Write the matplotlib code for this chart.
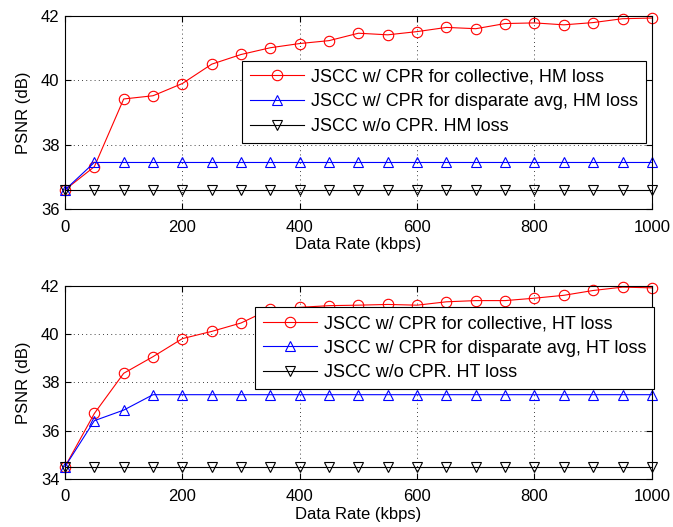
import numpy as np
import matplotlib
matplotlib.use('Agg')
import matplotlib.pyplot as plt

plt.rcParams['font.family'] = ['Liberation Sans', 'DejaVu Sans']

rate = [0, 50, 100, 150, 200, 250, 300, 350, 400, 450, 500,
        550, 600, 650, 700, 750, 800, 850, 900, 950, 1000]

# HM loss
hm_collective = [36.6, 37.32, 39.42, 39.52, 39.90, 40.50, 40.80, 41.01, 41.14, 41.23, 41.46,
                 41.41, 41.51, 41.64, 41.60, 41.76, 41.78, 41.72, 41.79, 41.91, 41.93]
hm_disparate = [36.6] + [37.45] * 20
hm_nocpr = [36.6] * 21

# HT loss
ht_collective = [34.5, 36.71, 38.38, 39.07, 39.82, 40.12, 40.47, 41.05, 41.12, 41.19, 41.21,
                 41.24, 41.21, 41.35, 41.40, 41.40, 41.50, 41.62, 41.82, 41.96, 41.93]
ht_disparate = [34.5, 36.41, 36.85] + [37.49] * 18
ht_nocpr = [34.5] * 21

labels_hm = ['JSCC w/ CPR for collective, HM loss',
             'JSCC w/ CPR for disparate avg, HM loss',
             'JSCC w/o CPR. HM loss']
labels_ht = ['JSCC w/ CPR for collective, HT loss',
             'JSCC w/ CPR for disparate avg, HT loss',
             'JSCC w/o CPR. HT loss']

fig = plt.figure(figsize=(6.73, 5.27), dpi=100)
ax1 = fig.add_axes([0.0966, 0.603, 0.872, 0.367])
ax2 = fig.add_axes([0.0966, 0.0917, 0.872, 0.3653])


def draw(ax, series, labels, ylim, yticks, legend_box):
    styles = [('r', 'o'), ('b', '^'), ('k', 'v')]
    for y, lab, (c, m) in zip(series, labels, styles):
        ax.plot(rate, y, color=c, marker=m, markersize=7.5, markerfacecolor='none',
                markeredgecolor=c, markeredgewidth=0.8, linewidth=0.8, label=lab,
                clip_on=False)
    ax.set_xlim(0, 1000)
    ax.set_ylim(*ylim)
    ax.set_xticks(np.arange(0, 1001, 200))
    ax.set_yticks(yticks)
    ax.grid(True, color='k', linestyle=(0, (1, 4)), linewidth=0.6)
    ax.tick_params(direction='in', top=True, right=True, labelsize=12, length=4)
    ax.tick_params(axis='x', pad=7.5)
    ax.tick_params(axis='y', pad=4)
    ax.set_xlabel('Data Rate (kbps)', fontsize=12, labelpad=2)
    ax.set_ylabel('PSNR (dB)', fontsize=12, labelpad=7)
    for s in ax.spines.values():
        s.set_linewidth(0.8)
    leg = ax.legend(loc='lower left', bbox_to_anchor=legend_box, fontsize=13,
                    frameon=True, fancybox=False, edgecolor='k', framealpha=1,
                    handlelength=3.0, borderpad=0.45, labelspacing=0.42,
                    handletextpad=0.35, borderaxespad=0)
    leg.get_frame().set_linewidth(0.8)


draw(ax1, [hm_collective, hm_disparate, hm_nocpr], labels_hm, (36, 42), [36, 38, 40, 42],
     (0.3015, 0.342, 0.686, 0.42))
draw(ax2, [ht_collective, ht_disparate, ht_nocpr], labels_ht, (34, 42), [34, 36, 38, 40, 42],
     (0.324, 0.464, 0.686, 0.42))

plt.savefig('out.png', dpi=100)
